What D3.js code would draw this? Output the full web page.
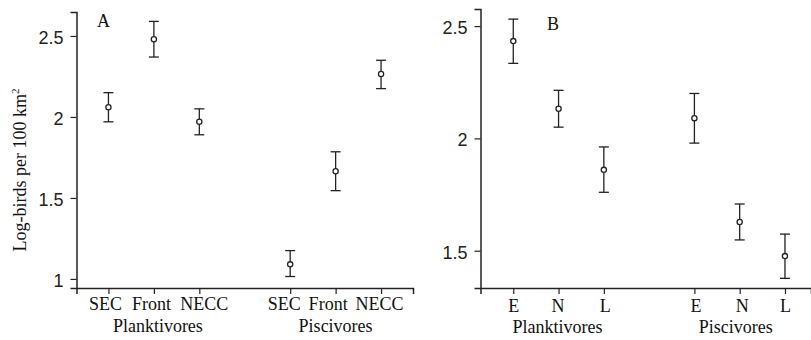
<!DOCTYPE html>
<html>
<head>
<meta charset="utf-8">
<script src="https://cdn.jsdelivr.net/npm/d3@7"></script>
<style>
  html, body { margin: 0; padding: 0; background: #fff; }
  svg { display: block; }
  .num text { font-family: "Liberation Sans", Arial, sans-serif; font-size: 18px; fill: #222; }
  .cat text { font-family: "Liberation Serif", "Times New Roman", serif; font-size: 18px; fill: #111; }
  .lbl { font-family: "Liberation Serif", "Times New Roman", serif; font-size: 18px; fill: #111; }
</style>
</head>
<body>
<svg id="chart" width="811" height="340"></svg>
<script>
// Feeding guilds shown along the bottom of both panels
const groups = ["Planktivores", "Piscivores"];

// Panel A: current systems
const zonesA = ["SEC", "Front", "NECC"];
const meanA = [2.06, 2.48, 1.97, 1.09, 1.665, 2.265];
const lowA  = [1.97, 2.37, 1.89, 1.015, 1.545, 2.175];
const highA = [2.15, 2.59, 2.05, 1.175, 1.785, 2.35];
const yTicksA = [1, 1.5, 2, 2.5];
const yLabelsA = ["1", "1.5", "2", "2.5"];

// Panel B: E / N / L
const zonesB = ["E", "N", "L"];
const meanB = [2.433, 2.132, 1.86, 2.09, 1.628, 1.476];
const lowB  = [2.334, 2.05, 1.76, 1.979, 1.548, 1.377];
const highB = [2.531, 2.214, 1.962, 2.2, 1.708, 1.574];
const yTicksB = [1.5, 2, 2.5];
const yLabelsB = ["1.5", "2", "2.5"];

// slot positions: three zones per guild, one empty slot between guilds
const slots = [0, 1, 2, 4, 5, 6];

const svg = d3.select("#chart");
const ink = "#222";

function panel(cfg) {
  const g = svg.append("g");
  const x = d3.scaleLinear().domain(cfg.xDomain).range(cfg.xRange);
  const y = d3.scaleLinear().domain(cfg.yDomain).range(cfg.yRange);

  const zoneLabels = slots.map((s, i) => cfg.zones[i % 3]);

  // y axis
  const ya = g.append("g")
    .attr("class", "num")
    .attr("transform", `translate(${cfg.xRange[0]},0)`)
    .call(d3.axisLeft(y).tickValues(cfg.yTicks)
      .tickFormat((d, i) => cfg.yLabels[i])
      .tickSizeOuter(0).tickSize(6).tickPadding(7));
  ya.select(".domain").attr("stroke", ink).attr("stroke-width", 1.5);
  ya.selectAll(".tick line").attr("stroke", ink).attr("stroke-width", 1.2);
  ya.selectAll("text").attr("dy", "0.42em");

  // x axis
  const xa = g.append("g")
    .attr("class", "cat")
    .attr("transform", `translate(0,${cfg.yRange[0]})`)
    .call(d3.axisBottom(x).tickValues(slots)
      .tickFormat((d, i) => zoneLabels[i])
      .tickSizeOuter(0).tickSize(6));
  xa.select(".domain").attr("stroke", ink).attr("stroke-width", 1.5);
  xa.selectAll(".tick line").attr("stroke", ink).attr("stroke-width", 1.2);
  xa.selectAll(".tick text")
    .attr("y", cfg.zoneBase).attr("dy", 0)
    .attr("dx", (d, i) => cfg.zoneShift[i]);

  // guild labels under each triple of zones
  g.selectAll("text.grp").data(groups).join("text")
    .attr("class", "lbl grp")
    .attr("x", (d, i) => x(slots[i * 3 + 1]) + cfg.grpShift[i])
    .attr("y", cfg.yRange[0] + cfg.grpBase)
    .attr("text-anchor", "middle")
    .text(d => d);

  // error bars
  const rows = slots.map((s, i) => ({ s, m: cfg.mean[i], lo: cfg.low[i], hi: cfg.high[i] }));
  const eb = g.append("g").attr("stroke", ink).attr("stroke-width", 1.3).attr("fill", "none");
  eb.selectAll("line.v").data(rows).join("line").attr("class", "v")
    .attr("x1", d => x(d.s)).attr("x2", d => x(d.s))
    .attr("y1", d => y(d.lo)).attr("y2", d => y(d.hi));
  eb.selectAll("line.t").data(rows).join("line").attr("class", "t")
    .attr("x1", d => x(d.s) - 5).attr("x2", d => x(d.s) + 5)
    .attr("y1", d => y(d.hi)).attr("y2", d => y(d.hi));
  eb.selectAll("line.b").data(rows).join("line").attr("class", "b")
    .attr("x1", d => x(d.s) - 5).attr("x2", d => x(d.s) + 5)
    .attr("y1", d => y(d.lo)).attr("y2", d => y(d.lo));

  // means
  g.selectAll("circle").data(rows).join("circle")
    .attr("cx", d => x(d.s)).attr("cy", d => y(d.m)).attr("r", 2.6)
    .attr("fill", "#fff").attr("stroke", ink).attr("stroke-width", 1.3);

  // panel letter
  g.append("text").attr("class", "lbl")
    .attr("x", cfg.letterPos[0]).attr("y", cfg.letterPos[1])
    .text(cfg.letter);

  return { x, y };
}

panel({
  zones: zonesA, mean: meanA, low: lowA, high: highA,
  yTicks: yTicksA, yLabels: yLabelsA,
  xDomain: [-0.703, 6.703], xRange: [76.5, 413],
  yDomain: [0.944, 2.648], yRange: [288, 12],
  zoneBase: 22, zoneShift: [-3.5, -3, 4.5, -6.5, -8, -2],
  grpBase: 43.5, grpShift: [4, 0],
  letter: "A", letterPos: [97, 27]
});

panel({
  zones: zonesB, mean: meanB, low: lowB, high: highB,
  yTicks: yTicksB, yLabels: yLabelsB,
  xDomain: [-0.724, 6.575], xRange: [480.5, 811],
  yDomain: [1.334, 2.576], yRange: [288, 9],
  zoneBase: 23.5, zoneShift: [0, -1, 1, 1, 2, 0],
  grpBase: 45, grpShift: [-1, -4],
  letter: "B", letterPos: [547, 30]
});

// y-axis title
svg.append("text").attr("class", "lbl")
  .attr("transform", "translate(26,170) rotate(-90)")
  .attr("text-anchor", "middle")
  .html('Log-birds per 100 km<tspan dy="-7" font-size="11">2</tspan>');
</script>
</body>
</html>
